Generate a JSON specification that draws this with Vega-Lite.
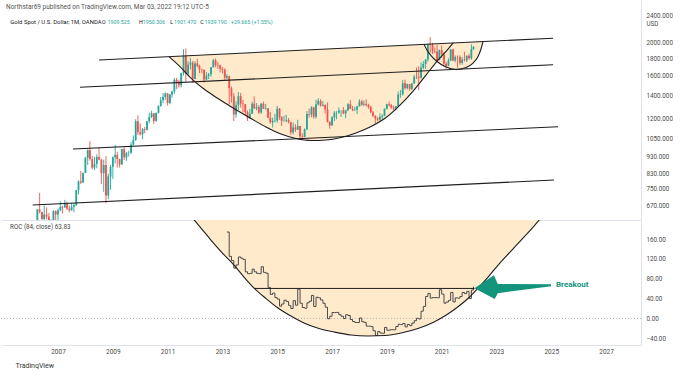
{
"$schema": "https://vega.github.io/schema/vega-lite/v6.json",
"background": "#ffffff",
"padding": 0,
"spacing": 0,
"title": {"text": "TradingView", "orient": "bottom", "anchor": "start", "fontSize": 7, "font": "Roboto", "fontWeight": "normal", "color": "#333333", "offset": 7, "dx": 15},
"resolve": {"scale": {"x": "independent", "y": "independent"}},
"datasets": {
"px": [
{"d":"2006-03-01","o":556,"h":584,"l":538,"c":582},
{"d":"2006-04-01","o":582,"h":655,"l":578,"c":654},
{"d":"2006-05-01","o":654,"h":730,"l":637,"c":643},
{"d":"2006-06-01","o":643,"h":644,"l":543,"c":613},
{"d":"2006-07-01","o":613,"h":671,"l":605,"c":632},
{"d":"2006-08-01","o":632,"h":663,"l":612,"c":623},
{"d":"2006-09-01","o":623,"h":638,"l":561,"c":599},
{"d":"2006-10-01","o":599,"h":612,"l":560,"c":604},
{"d":"2006-11-01","o":604,"h":650,"l":604,"c":646},
{"d":"2006-12-01","o":646,"h":650,"l":606,"c":632},
{"d":"2007-01-01","o":632,"h":658,"l":604,"c":650},
{"d":"2007-02-01","o":650,"h":690,"l":646,"c":665},
{"d":"2007-03-01","o":665,"h":670,"l":636,"c":662},
{"d":"2007-04-01","o":662,"h":697,"l":662,"c":679},
{"d":"2007-05-01","o":679,"h":689,"l":652,"c":657},
{"d":"2007-06-01","o":657,"h":671,"l":642,"c":650},
{"d":"2007-07-01","o":650,"h":683,"l":648,"c":665},
{"d":"2007-08-01","o":665,"h":680,"l":642,"c":673},
{"d":"2007-09-01","o":673,"h":745,"l":669,"c":743},
{"d":"2007-10-01","o":743,"h":794,"l":723,"c":789},
{"d":"2007-11-01","o":789,"h":846,"l":775,"c":783},
{"d":"2007-12-01","o":783,"h":837,"l":780,"c":834},
{"d":"2008-01-01","o":834,"h":930,"l":833,"c":923},
{"d":"2008-02-01","o":923,"h":977,"l":880,"c":972},
{"d":"2008-03-01","o":972,"h":1032,"l":906,"c":916},
{"d":"2008-04-01","o":916,"h":935,"l":854,"c":865},
{"d":"2008-05-01","o":865,"h":930,"l":850,"c":887},
{"d":"2008-06-01","o":887,"h":945,"l":861,"c":928},
{"d":"2008-07-01","o":928,"h":988,"l":908,"c":912},
{"d":"2008-08-01","o":912,"h":917,"l":774,"c":833},
{"d":"2008-09-01","o":833,"h":912,"l":736,"c":880},
{"d":"2008-10-01","o":880,"h":934,"l":681,"c":718},
{"d":"2008-11-01","o":718,"h":830,"l":700,"c":815},
{"d":"2008-12-01","o":815,"h":881,"l":745,"c":869},
{"d":"2009-01-01","o":869,"h":932,"l":802,"c":927},
{"d":"2009-02-01","o":927,"h":1007,"l":890,"c":942},
{"d":"2009-03-01","o":942,"h":962,"l":865,"c":916},
{"d":"2009-04-01","o":916,"h":918,"l":865,"c":883},
{"d":"2009-05-01","o":883,"h":981,"l":882,"c":979},
{"d":"2009-06-01","o":979,"h":990,"l":910,"c":926},
{"d":"2009-07-01","o":926,"h":960,"l":905,"c":954},
{"d":"2009-08-01","o":954,"h":967,"l":931,"c":955},
{"d":"2009-09-01","o":955,"h":1025,"l":948,"c":1008},
{"d":"2009-10-01","o":1008,"h":1072,"l":1003,"c":1040},
{"d":"2009-11-01","o":1040,"h":1195,"l":1034,"c":1180},
{"d":"2009-12-01","o":1180,"h":1227,"l":1075,"c":1096},
{"d":"2010-01-01","o":1096,"h":1162,"l":1072,"c":1081},
{"d":"2010-02-01","o":1081,"h":1128,"l":1045,"c":1118},
{"d":"2010-03-01","o":1118,"h":1135,"l":1088,"c":1113},
{"d":"2010-04-01","o":1113,"h":1180,"l":1110,"c":1180},
{"d":"2010-05-01","o":1180,"h":1249,"l":1164,"c":1213},
{"d":"2010-06-01","o":1213,"h":1265,"l":1205,"c":1244},
{"d":"2010-07-01","o":1244,"h":1244,"l":1157,"c":1181},
{"d":"2010-08-01","o":1181,"h":1250,"l":1175,"c":1248},
{"d":"2010-09-01","o":1248,"h":1310,"l":1242,"c":1307},
{"d":"2010-10-01","o":1307,"h":1388,"l":1300,"c":1357},
{"d":"2010-11-01","o":1357,"h":1424,"l":1330,"c":1386},
{"d":"2010-12-01","o":1386,"h":1431,"l":1360,"c":1421},
{"d":"2011-01-01","o":1421,"h":1424,"l":1309,"c":1333},
{"d":"2011-02-01","o":1333,"h":1412,"l":1323,"c":1410},
{"d":"2011-03-01","o":1410,"h":1447,"l":1381,"c":1439},
{"d":"2011-04-01","o":1439,"h":1575,"l":1418,"c":1556},
{"d":"2011-05-01","o":1556,"h":1577,"l":1462,"c":1536},
{"d":"2011-06-01","o":1536,"h":1557,"l":1478,"c":1500},
{"d":"2011-07-01","o":1500,"h":1632,"l":1479,"c":1628},
{"d":"2011-08-01","o":1628,"h":1911,"l":1602,"c":1826},
{"d":"2011-09-01","o":1826,"h":1921,"l":1535,"c":1620},
{"d":"2011-10-01","o":1620,"h":1764,"l":1601,"c":1722},
{"d":"2011-11-01","o":1722,"h":1803,"l":1667,"c":1746},
{"d":"2011-12-01","o":1746,"h":1764,"l":1523,"c":1565},
{"d":"2012-01-01","o":1565,"h":1764,"l":1563,"c":1737},
{"d":"2012-02-01","o":1737,"h":1792,"l":1691,"c":1709},
{"d":"2012-03-01","o":1709,"h":1720,"l":1628,"c":1669},
{"d":"2012-04-01","o":1669,"h":1677,"l":1627,"c":1664},
{"d":"2012-05-01","o":1664,"h":1666,"l":1527,"c":1559},
{"d":"2012-06-01","o":1559,"h":1640,"l":1555,"c":1598},
{"d":"2012-07-01","o":1598,"h":1630,"l":1564,"c":1614},
{"d":"2012-08-01","o":1614,"h":1695,"l":1589,"c":1692},
{"d":"2012-09-01","o":1692,"h":1790,"l":1690,"c":1773},
{"d":"2012-10-01","o":1773,"h":1795,"l":1693,"c":1719},
{"d":"2012-11-01","o":1719,"h":1755,"l":1673,"c":1713},
{"d":"2012-12-01","o":1713,"h":1724,"l":1636,"c":1675},
{"d":"2013-01-01","o":1675,"h":1696,"l":1627,"c":1663},
{"d":"2013-02-01","o":1663,"h":1681,"l":1555,"c":1579},
{"d":"2013-03-01","o":1579,"h":1617,"l":1562,"c":1595},
{"d":"2013-04-01","o":1595,"h":1598,"l":1321,"c":1472},
{"d":"2013-05-01","o":1472,"h":1488,"l":1338,"c":1393},
{"d":"2013-06-01","o":1393,"h":1424,"l":1180,"c":1234},
{"d":"2013-07-01","o":1234,"h":1348,"l":1207,"c":1313},
{"d":"2013-08-01","o":1313,"h":1434,"l":1271,"c":1395},
{"d":"2013-09-01","o":1395,"h":1425,"l":1292,"c":1327},
{"d":"2013-10-01","o":1327,"h":1361,"l":1251,"c":1323},
{"d":"2013-11-01","o":1323,"h":1323,"l":1221,"c":1253},
{"d":"2013-12-01","o":1253,"h":1267,"l":1182,"c":1202},
{"d":"2014-01-01","o":1202,"h":1280,"l":1202,"c":1240},
{"d":"2014-02-01","o":1240,"h":1345,"l":1238,"c":1326},
{"d":"2014-03-01","o":1326,"h":1392,"l":1284,"c":1284},
{"d":"2014-04-01","o":1284,"h":1332,"l":1268,"c":1296},
{"d":"2014-05-01","o":1296,"h":1315,"l":1240,"c":1250},
{"d":"2014-06-01","o":1250,"h":1332,"l":1240,"c":1327},
{"d":"2014-07-01","o":1327,"h":1345,"l":1282,"c":1282},
{"d":"2014-08-01","o":1282,"h":1324,"l":1273,"c":1287},
{"d":"2014-09-01","o":1287,"h":1288,"l":1205,"c":1208},
{"d":"2014-10-01","o":1208,"h":1255,"l":1161,"c":1171},
{"d":"2014-11-01","o":1171,"h":1208,"l":1131,"c":1183},
{"d":"2014-12-01","o":1183,"h":1238,"l":1170,"c":1184},
{"d":"2015-01-01","o":1184,"h":1307,"l":1167,"c":1283},
{"d":"2015-02-01","o":1283,"h":1290,"l":1191,"c":1213},
{"d":"2015-03-01","o":1213,"h":1220,"l":1142,"c":1183},
{"d":"2015-04-01","o":1183,"h":1224,"l":1175,"c":1184},
{"d":"2015-05-01","o":1184,"h":1232,"l":1170,"c":1190},
{"d":"2015-06-01","o":1190,"h":1205,"l":1162,"c":1172},
{"d":"2015-07-01","o":1172,"h":1175,"l":1077,"c":1095},
{"d":"2015-08-01","o":1095,"h":1170,"l":1080,"c":1132},
{"d":"2015-09-01","o":1132,"h":1157,"l":1098,"c":1115},
{"d":"2015-10-01","o":1115,"h":1191,"l":1112,"c":1142},
{"d":"2015-11-01","o":1142,"h":1142,"l":1052,"c":1065},
{"d":"2015-12-01","o":1065,"h":1088,"l":1046,"c":1061},
{"d":"2016-01-01","o":1061,"h":1124,"l":1061,"c":1118},
{"d":"2016-02-01","o":1118,"h":1263,"l":1111,"c":1238},
{"d":"2016-03-01","o":1238,"h":1283,"l":1208,"c":1233},
{"d":"2016-04-01","o":1233,"h":1304,"l":1211,"c":1293},
{"d":"2016-05-01","o":1293,"h":1303,"l":1200,"c":1215},
{"d":"2016-06-01","o":1215,"h":1362,"l":1200,"c":1321},
{"d":"2016-07-01","o":1321,"h":1375,"l":1310,"c":1351},
{"d":"2016-08-01","o":1351,"h":1367,"l":1301,"c":1309},
{"d":"2016-09-01","o":1309,"h":1352,"l":1302,"c":1316},
{"d":"2016-10-01","o":1316,"h":1319,"l":1241,"c":1276},
{"d":"2016-11-01","o":1276,"h":1338,"l":1171,"c":1173},
{"d":"2016-12-01","o":1173,"h":1182,"l":1122,"c":1146},
{"d":"2017-01-01","o":1146,"h":1220,"l":1146,"c":1211},
{"d":"2017-02-01","o":1211,"h":1264,"l":1181,"c":1249},
{"d":"2017-03-01","o":1249,"h":1261,"l":1195,"c":1249},
{"d":"2017-04-01","o":1249,"h":1295,"l":1240,"c":1268},
{"d":"2017-05-01","o":1268,"h":1270,"l":1214,"c":1268},
{"d":"2017-06-01","o":1268,"h":1296,"l":1237,"c":1242},
{"d":"2017-07-01","o":1242,"h":1274,"l":1204,"c":1269},
{"d":"2017-08-01","o":1269,"h":1331,"l":1262,"c":1322},
{"d":"2017-09-01","o":1322,"h":1357,"l":1281,"c":1280},
{"d":"2017-10-01","o":1280,"h":1306,"l":1261,"c":1271},
{"d":"2017-11-01","o":1271,"h":1299,"l":1264,"c":1275},
{"d":"2017-12-01","o":1275,"h":1308,"l":1237,"c":1303},
{"d":"2018-01-01","o":1303,"h":1366,"l":1302,"c":1345},
{"d":"2018-02-01","o":1345,"h":1362,"l":1307,"c":1318},
{"d":"2018-03-01","o":1318,"h":1356,"l":1304,"c":1325},
{"d":"2018-04-01","o":1325,"h":1366,"l":1302,"c":1316},
{"d":"2018-05-01","o":1316,"h":1326,"l":1282,"c":1299},
{"d":"2018-06-01","o":1299,"h":1309,"l":1245,"c":1253},
{"d":"2018-07-01","o":1253,"h":1265,"l":1211,"c":1224},
{"d":"2018-08-01","o":1224,"h":1227,"l":1160,"c":1201},
{"d":"2018-09-01","o":1201,"h":1214,"l":1180,"c":1192},
{"d":"2018-10-01","o":1192,"h":1243,"l":1182,"c":1215},
{"d":"2018-11-01","o":1215,"h":1237,"l":1196,"c":1222},
{"d":"2018-12-01","o":1222,"h":1284,"l":1221,"c":1282},
{"d":"2019-01-01","o":1282,"h":1326,"l":1276,"c":1321},
{"d":"2019-02-01","o":1321,"h":1346,"l":1302,"c":1313},
{"d":"2019-03-01","o":1313,"h":1324,"l":1281,"c":1292},
{"d":"2019-04-01","o":1292,"h":1310,"l":1266,"c":1284},
{"d":"2019-05-01","o":1284,"h":1306,"l":1267,"c":1305},
{"d":"2019-06-01","o":1305,"h":1439,"l":1301,"c":1409},
{"d":"2019-07-01","o":1409,"h":1453,"l":1381,"c":1414},
{"d":"2019-08-01","o":1414,"h":1555,"l":1400,"c":1520},
{"d":"2019-09-01","o":1520,"h":1557,"l":1459,"c":1472},
{"d":"2019-10-01","o":1472,"h":1517,"l":1459,"c":1513},
{"d":"2019-11-01","o":1513,"h":1516,"l":1445,"c":1464},
{"d":"2019-12-01","o":1464,"h":1525,"l":1454,"c":1517},
{"d":"2020-01-01","o":1517,"h":1611,"l":1517,"c":1589},
{"d":"2020-02-01","o":1589,"h":1689,"l":1564,"c":1585},
{"d":"2020-03-01","o":1585,"h":1704,"l":1451,"c":1577},
{"d":"2020-04-01","o":1577,"h":1748,"l":1567,"c":1687},
{"d":"2020-05-01","o":1687,"h":1765,"l":1670,"c":1730},
{"d":"2020-06-01","o":1730,"h":1789,"l":1671,"c":1781},
{"d":"2020-07-01","o":1781,"h":1981,"l":1757,"c":1975},
{"d":"2020-08-01","o":1975,"h":2075,"l":1863,"c":1967},
{"d":"2020-09-01","o":1967,"h":1992,"l":1849,"c":1886},
{"d":"2020-10-01","o":1886,"h":1933,"l":1860,"c":1879},
{"d":"2020-11-01","o":1879,"h":1966,"l":1765,"c":1776},
{"d":"2020-12-01","o":1776,"h":1907,"l":1775,"c":1898},
{"d":"2021-01-01","o":1898,"h":1959,"l":1802,"c":1847},
{"d":"2021-02-01","o":1847,"h":1872,"l":1717,"c":1734},
{"d":"2021-03-01","o":1734,"h":1756,"l":1677,"c":1708},
{"d":"2021-04-01","o":1708,"h":1798,"l":1705,"c":1769},
{"d":"2021-05-01","o":1769,"h":1913,"l":1766,"c":1906},
{"d":"2021-06-01","o":1906,"h":1916,"l":1761,"c":1770},
{"d":"2021-07-01","o":1770,"h":1833,"l":1750,"c":1814},
{"d":"2021-08-01","o":1814,"h":1832,"l":1688,"c":1813},
{"d":"2021-09-01","o":1813,"h":1834,"l":1722,"c":1743},
{"d":"2021-10-01","o":1743,"h":1814,"l":1721,"c":1783},
{"d":"2021-11-01","o":1783,"h":1877,"l":1759,"c":1774},
{"d":"2021-12-01","o":1774,"h":1831,"l":1753,"c":1829},
{"d":"2022-01-01","o":1829,"h":1853,"l":1780,"c":1797},
{"d":"2022-02-01","o":1797,"h":1974,"l":1781,"c":1909},
{"d":"2022-03-01","o":1909.525,"h":1950.306,"l":1901.47,"c":1939.19}
],
"roc": [
{"d":"2013-03-01","v":174.1},{"d":"2013-04-01","v":125.1},{"d":"2013-05-01","v":116.6},{"d":"2013-06-01","v":101.3},{"d":"2013-07-01","v":107.8},{"d":"2013-08-01","v":123.9},{"d":"2013-09-01","v":121.5},{"d":"2013-10-01","v":119.0},{"d":"2013-11-01","v":94.0},{"d":"2013-12-01","v":90.2},
{"d":"2014-01-01","v":90.8},{"d":"2014-02-01","v":99.4},{"d":"2014-03-01","v":94.0},{"d":"2014-04-01","v":90.9},{"d":"2014-05-01","v":90.3},{"d":"2014-06-01","v":104.2},{"d":"2014-07-01","v":92.8},{"d":"2014-08-01","v":91.2},{"d":"2014-09-01","v":62.6},{"d":"2014-10-01","v":48.4},{"d":"2014-11-01","v":51.1},{"d":"2014-12-01","v":42.0},
{"d":"2015-01-01","v":39.0},{"d":"2015-02-01","v":24.8},{"d":"2015-03-01","v":29.1},{"d":"2015-04-01","v":36.9},{"d":"2015-05-01","v":34.2},{"d":"2015-06-01","v":26.3},{"d":"2015-07-01","v":20.1},{"d":"2015-08-01","v":35.9},{"d":"2015-09-01","v":26.7},{"d":"2015-10-01","v":59.1},{"d":"2015-11-01","v":30.7},{"d":"2015-12-01","v":22.1},
{"d":"2016-01-01","v":20.6},{"d":"2016-02-01","v":31.4},{"d":"2016-03-01","v":34.6},{"d":"2016-04-01","v":46.4},{"d":"2016-05-01","v":24.1},{"d":"2016-06-01","v":42.7},{"d":"2016-07-01","v":41.6},{"d":"2016-08-01","v":37.1},{"d":"2016-09-01","v":30.6},{"d":"2016-10-01","v":22.7},{"d":"2016-11-01","v":-0.6},{"d":"2016-12-01","v":4.6},
{"d":"2017-01-01","v":12.0},{"d":"2017-02-01","v":11.7},{"d":"2017-03-01","v":12.2},{"d":"2017-04-01","v":7.5},{"d":"2017-05-01","v":4.5},{"d":"2017-06-01","v":-0.2},{"d":"2017-07-01","v":7.5},{"d":"2017-08-01","v":5.9},{"d":"2017-09-01","v":-2.1},{"d":"2017-10-01","v":-6.3},{"d":"2017-11-01","v":-8.0},{"d":"2017-12-01","v":-8.3},
{"d":"2018-01-01","v":0.9},{"d":"2018-02-01","v":-6.5},{"d":"2018-03-01","v":-7.9},{"d":"2018-04-01","v":-15.4},{"d":"2018-05-01","v":-15.4},{"d":"2018-06-01","v":-16.5},{"d":"2018-07-01","v":-24.8},{"d":"2018-08-01","v":-34.2},{"d":"2018-09-01","v":-26.4},{"d":"2018-10-01","v":-29.4},{"d":"2018-11-01","v":-30.0},{"d":"2018-12-01","v":-18.1},
{"d":"2019-01-01","v":-23.9},{"d":"2019-02-01","v":-23.2},{"d":"2019-03-01","v":-22.6},{"d":"2019-04-01","v":-22.8},{"d":"2019-05-01","v":-16.3},{"d":"2019-06-01","v":-11.8},{"d":"2019-07-01","v":-12.4},{"d":"2019-08-01","v":-10.2},{"d":"2019-09-01","v":-17.0},{"d":"2019-10-01","v":-12.0},{"d":"2019-11-01","v":-14.5},{"d":"2019-12-01","v":-9.4},
{"d":"2020-01-01","v":-4.5},{"d":"2020-02-01","v":0.4},{"d":"2020-03-01","v":-1.1},{"d":"2020-04-01","v":14.6},{"d":"2020-05-01","v":24.2},{"d":"2020-06-01","v":44.3},{"d":"2020-07-01","v":50.4},{"d":"2020-08-01","v":41.0},{"d":"2020-09-01","v":42.1},{"d":"2020-10-01","v":42.0},{"d":"2020-11-01","v":41.7},{"d":"2020-12-01","v":57.9},
{"d":"2021-01-01","v":49.0},{"d":"2021-02-01","v":30.8},{"d":"2021-03-01","v":33.0},{"d":"2021-04-01","v":36.5},{"d":"2021-05-01","v":52.5},{"d":"2021-06-01","v":33.4},{"d":"2021-07-01","v":41.5},{"d":"2021-08-01","v":40.9},{"d":"2021-09-01","v":44.3},{"d":"2021-10-01","v":52.3},{"d":"2021-11-01","v":50.0},{"d":"2021-12-01","v":54.5},
{"d":"2022-01-01","v":40.1},{"d":"2022-02-01","v":57.4},{"d":"2022-03-01","v":63.83}
],
"trend": [
{"d1":"2008-07-01","p1":1777,"d2":"2025-01-25","p2":2056},
{"d1":"2007-10-21","p1":1480,"d2":"2025-01-25","p2":1722},
{"d1":"2007-07-19","p1":979,"d2":"2025-04-01","p2":1137},
{"d1":"2006-01-29","p1":673,"d2":"2025-02-07","p2":796}
],
"cup": [
{"d":"2011-01-19","a":1817.5,"ch":1817.5},
{"d":"2011-06-28","a":1689.6,"ch":1824.5},
{"d":"2011-11-08","a":1574.9,"ch":1830.3},
{"d":"2012-05-01","a":1463.1,"ch":1838.0},
{"d":"2012-11-02","a":1373.0,"ch":1846.3},
{"d":"2013-06-04","a":1284.0,"ch":1855.8},
{"d":"2014-01-17","a":1200.9,"ch":1866.0},
{"d":"2014-08-04","a":1134.5,"ch":1875.0},
{"d":"2015-02-20","a":1082.6,"ch":1884.1},
{"d":"2015-09-08","a":1050.5,"ch":1893.2},
{"d":"2016-03-27","a":1036.5,"ch":1902.3},
{"d":"2016-10-12","a":1040.0,"ch":1911.5},
{"d":"2017-05-01","a":1057.5,"ch":1920.8},
{"d":"2017-11-16","a":1089.9,"ch":1930.0},
{"d":"2018-06-04","a":1138.3,"ch":1939.4},
{"d":"2018-12-21","a":1209.0,"ch":1948.8},
{"d":"2019-06-12","a":1305.7,"ch":1956.9},
{"d":"2019-12-29","a":1453.3,"ch":1966.4},
{"d":"2020-06-06","a":1606.8,"ch":1974.0},
{"d":"2020-11-13","a":1776.5,"ch":1981.6},
{"d":"2021-03-27","a":1912.3,"ch":1988.0},
{"d":"2021-06-02","a":1991.2,"ch":1991.2}
],
"handle": [
{"d":"2020-05-11","a":1972.7,"ch":1972.7},
{"d":"2020-06-19","a":1899.5,"ch":1974.6},
{"d":"2020-08-12","a":1830.9,"ch":1977.1},
{"d":"2020-10-31","a":1758.8,"ch":1980.9},
{"d":"2021-02-28","a":1695.2,"ch":1986.7},
{"d":"2021-07-11","a":1667.1,"ch":1993.1},
{"d":"2021-11-22","a":1689.6,"ch":1999.5},
{"d":"2022-02-23","a":1741.2,"ch":2004.0},
{"d":"2022-05-01","a":1818.7,"ch":2007.2},
{"d":"2022-06-09","a":1912.3,"ch":2009.2},
{"d":"2022-07-06","a":2010.5,"ch":2010.5}
],
"rarc": [
{"d":"2011-11-08","v":206.3},{"d":"2012-03-21","v":182.2},{"d":"2012-07-31","v":158.0},{"d":"2012-12-26","v":132.8},{"d":"2013-06-04","v":107.6},{"d":"2013-10-15","v":83.5},{"d":"2014-02-26","v":61.3},{"d":"2014-08-04","v":40.2},{"d":"2015-01-11","v":21.0},{"d":"2015-07-03","v":4.9},{"d":"2015-12-24","v":-9.2},{"d":"2016-07-11","v":-20.3},{"d":"2017-01-27","v":-27.3},{"d":"2017-09-11","v":-33.4},{"d":"2018-04-25","v":-35.4},{"d":"2018-12-08","v":-34.4},{"d":"2019-07-09","v":-29.3},{"d":"2020-02-20","v":-20.3},{"d":"2020-09-21","v":-7.2},{"d":"2021-03-14","v":7.9},{"d":"2021-08-20","v":25.1},{"d":"2022-01-01","v":42.2},{"d":"2022-05-01","v":61.3},{"d":"2022-09-23","v":85.5},{"d":"2023-02-04","v":109.6},{"d":"2023-07-14","v":135.8},{"d":"2023-12-21","v":162.0},{"d":"2024-05-16","v":186.2},{"d":"2024-09-26","v":210.4}
],
"hdr": [
{"d":"2005-02-07","p":2538,"s":"Northstar69 published on TradingView.com, Mar 03, 2022 19:12 UTC-5","k":"a","f":"big"},
{"d":"2005-04-05","p":2296,"s":"Gold Spot / U.S. Dollar, 1M, OANDA","k":"b","f":"sm"},
{"d":"2008-08-09","p":2296,"s":"O","k":"b","f":"mid"},
{"d":"2008-10-22","p":2296,"s":"1909.525","k":"v","f":"mid"},
{"d":"2009-12-16","p":2296,"s":"H","k":"b","f":"mid"},
{"d":"2010-02-03","p":2296,"s":"1950.306","k":"v","f":"mid"},
{"d":"2011-02-06","p":2296,"s":"L","k":"b","f":"mid"},
{"d":"2011-03-27","p":2296,"s":"1901.470","k":"v","f":"mid"},
{"d":"2012-03-11","p":2296,"s":"C","k":"b","f":"mid"},
{"d":"2012-05-07","p":2296,"s":"1939.190","k":"v","f":"mid"},
{"d":"2013-04-25","p":2296,"s":"+29.665 (+1.55%)","k":"v","f":"mid"}
],
"zero": [{"z": 0}]
},
"vconcat": [
{
"width": 640, "height": 220,
"layer": [
{"data": {"name": "cup"}, "mark": {"type": "area", "color": "#ffeacc", "interpolate": "monotone"},
 "encoding": {
  "x": {"field": "d", "type": "temporal", "scale": {"type": "utc", "domain": [{"year":2004,"month":12,"date":2,"utc":true},{"year":2028,"month":4,"date":11,"utc":true}]}, "axis": {"orient": "bottom", "labels": false, "ticks": false, "domain": true, "domainColor": "#e0e3eb", "grid": false}},
  "y": {"field": "a", "type": "quantitative", "scale": {"type": "log", "domain": [609, 2655], "nice": false}, "axis": {"orient": "right", "values": [670,750,830,930,1050,1200,1400,1600,1800,2000,2400], "labelExpr": "datum.value == 2400 ? ['2400.000','USD'] : format(datum.value, '.3f')", "labelFontSize": 6.3, "labelPadding": 5, "ticks": false, "domain": true, "domainColor": "#e0e3eb", "grid": false, "labelOverlap": false, "labelColor": "#4b4b4b", "labelFont": "Roboto"}},
  "y2": {"field": "ch"}
 }},
{"data": {"name": "handle"}, "mark": {"type": "area", "color": "#ffeacc", "interpolate": "monotone"},
 "encoding": {"x": {"field": "d", "type": "temporal"}, "y": {"field": "a", "type": "quantitative"}, "y2": {"field": "ch"}}},
{"data": {"name": "px"}, "mark": {"type": "rule", "strokeWidth": 0.9, "clip": true},
 "encoding": {"x": {"field": "d", "type": "temporal"}, "y": {"field": "l", "type": "quantitative"}, "y2": {"field": "h"},
  "color": {"condition": {"test": "datum.c >= datum.o", "value": "#26a69a"}, "value": "#ef5350"}}},
{"data": {"name": "px"}, "mark": {"type": "rule", "strokeWidth": 1.8, "clip": true},
 "encoding": {"x": {"field": "d", "type": "temporal"}, "y": {"field": "o", "type": "quantitative"}, "y2": {"field": "c"},
  "color": {"condition": {"test": "datum.c >= datum.o", "value": "#26a69a"}, "value": "#ef5350"}}},
{"data": {"name": "trend"}, "mark": {"type": "rule", "color": "#1e1e1e", "strokeWidth": 1.1},
 "encoding": {"x": {"field": "d1", "type": "temporal"}, "x2": {"field": "d2"}, "y": {"field": "p1", "type": "quantitative"}, "y2": {"field": "p2"}}},
{"data": {"name": "cup"}, "mark": {"type": "line", "color": "#1e1e1e", "strokeWidth": 1.1, "interpolate": "monotone"},
 "encoding": {"x": {"field": "d", "type": "temporal"}, "y": {"field": "a", "type": "quantitative"}}},
{"data": {"name": "handle"}, "mark": {"type": "line", "color": "#1e1e1e", "strokeWidth": 1.1, "interpolate": "monotone"},
 "encoding": {"x": {"field": "d", "type": "temporal"}, "y": {"field": "a", "type": "quantitative"}}},
{"data": {"name": "hdr"}, "mark": {"type": "text", "align": "left", "baseline": "middle", "font": "Roboto"},
 "encoding": {"x": {"field": "d", "type": "temporal"}, "y": {"field": "p", "type": "quantitative"}, "text": {"field": "s"},
  "size": {"field": "f", "type": "nominal", "scale": {"domain": ["big","sm","mid"], "range": [6.5, 5.3, 6.3]}, "legend": null},
  "color": {"field": "k", "type": "nominal", "scale": {"domain": ["a","b","v"], "range": ["#555555","#131722","#26a69a"]}, "legend": null}}}
]
},
{
"width": 640, "height": 125,
"encoding": {
  "x": {"field": "d", "type": "temporal", "scale": {"type": "utc", "domain": [{"year":2004,"month":12,"date":2,"utc":true},{"year":2028,"month":4,"date":11,"utc":true}]}, "axis": {"orient": "bottom", "values": [{"year":2007,"utc":true},{"year":2009,"utc":true},{"year":2011,"utc":true},{"year":2013,"utc":true},{"year":2015,"utc":true},{"year":2017,"utc":true},{"year":2019,"utc":true},{"year":2021,"utc":true},{"year":2023,"utc":true},{"year":2025,"utc":true},{"year":2027,"utc":true}], "format": "%Y", "formatType": "utc", "labelFontSize": 6.5, "labelPadding": 3, "ticks": false, "tickSize": 0, "domain": true, "domainColor": "#e0e3eb", "grid": false, "labelColor": "#4b4b4b", "labelFont": "Roboto", "labelFlush": false, "labelOverlap": false}},
  "y": {"field": "v", "type": "quantitative", "scale": {"domain": [-53.5, 198.4], "nice": false, "zero": false}, "axis": {"orient": "right", "values": [-40,0,40,80,120,160], "format": ".2f", "labelFontSize": 6.3, "labelPadding": 5, "ticks": false, "domain": true, "domainColor": "#e0e3eb", "grid": false, "labelOverlap": false, "labelSeparation": -40, "labelBound": false, "labelColor": "#4b4b4b", "labelFont": "Roboto"}}
},
"layer": [
{"data": {"name": "rarc"}, "mark": {"type": "area", "color": "#ffeacc", "clip": true, "interpolate": "monotone"},
 "encoding": {"y2": {"datum": 260}}},
{"data": {"name": "zero"}, "mark": {"type": "rule", "color": "#b2b5be", "strokeDash": [1, 2], "strokeWidth": 1},
 "encoding": {"x": null, "y": {"field": "z", "type": "quantitative"}}},
{"data": {"name": "roc"}, "mark": {"type": "line", "color": "#4a4a4a", "strokeWidth": 1, "interpolate": "step-after"}},
{"data": {"name": "rarc"}, "mark": {"type": "line", "color": "#1e1e1e", "strokeWidth": 1.1, "clip": true, "interpolate": "monotone"}},
{"data": {"values": [{"d": "2014-02-26", "d2": "2022-03-15", "v": 60.5}]}, "mark": {"type": "rule", "color": "#1e1e1e", "strokeWidth": 1},
 "encoding": {"x2": {"field": "d2"}}},
{"data": {"values": [{"d": "2023-08-06", "v": 63.3}]}, "mark": {"type": "point", "shape": "M-1,0.03L-0.49,-0.31L-0.39,-0.08L1,-0.07L1,-0.02L-0.39,0.16L-0.47,0.31Z", "size": 5868, "filled": true, "color": "#12957c", "opacity": 1, "strokeWidth": 0}},
{"data": {"values": [{"d": "2025-03-05", "v": 67.4, "s": "Breakout"}]}, "mark": {"type": "text", "align": "left", "baseline": "middle", "fontSize": 8, "fontWeight": "bold", "font": "Roboto", "color": "#12957c"},
 "encoding": {"text": {"field": "s"}}},
{"data": {"values": [{"d": "2005-04-01", "v": 185.2, "s": "ROC (84, close)  63.83"}]}, "mark": {"type": "text", "align": "left", "baseline": "middle", "fontSize": 6.3, "font": "Roboto", "color": "#444444"},
 "encoding": {"text": {"field": "s"}}}
]
}
],
"config": {"view": {"stroke": null}, "axis": {"title": null, "labelOverlap": false}, "font": "Roboto"}
}
